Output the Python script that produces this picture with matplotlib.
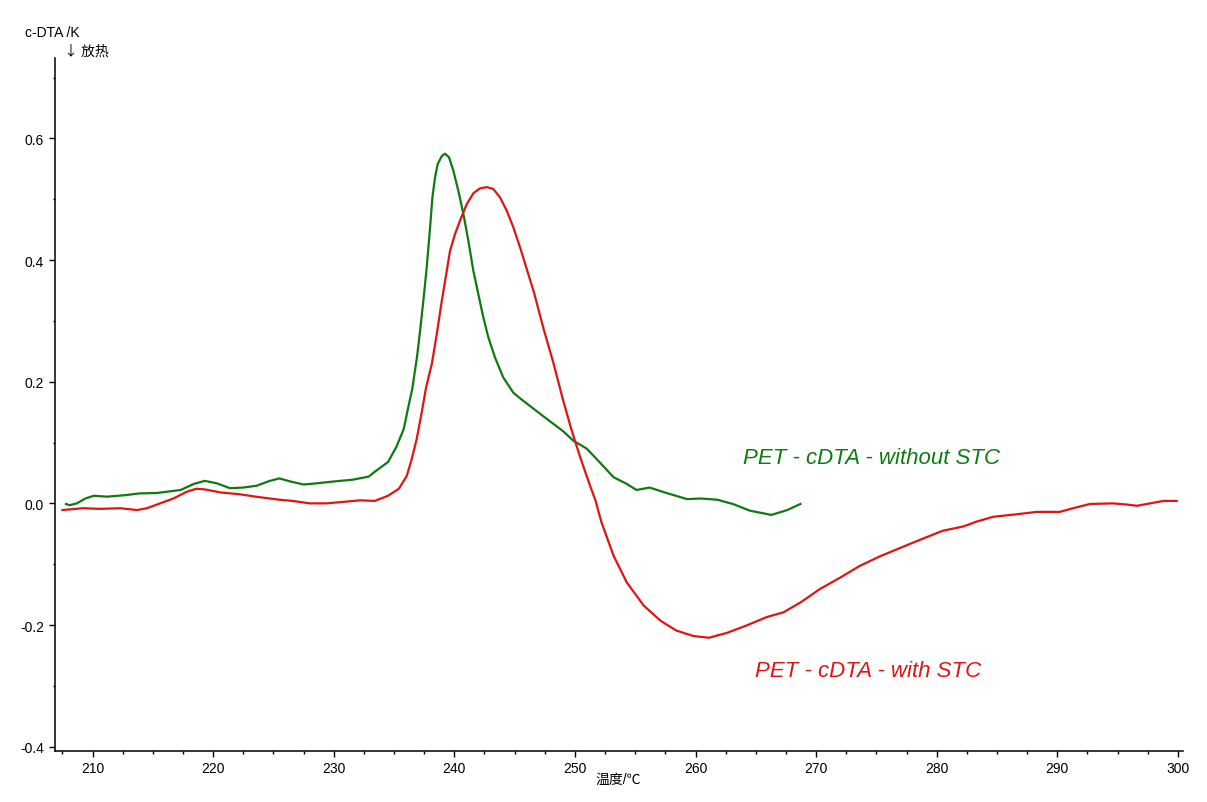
import matplotlib
matplotlib.use('Agg')
import matplotlib.pyplot as plt
from matplotlib.ticker import MultipleLocator, FormatStrFormatter

plt.rcParams['font.family'] = ['Liberation Sans', 'Noto Sans CJK SC', 'DejaVu Sans']
plt.rcParams['axes.unicode_minus'] = False

# c-DTA curve without STC (temperature in degC, signal in K)
temp_without = [207.8, 208.1, 208.7, 209.4, 210.1, 211.2, 212.8, 213.9, 215.3, 217.3,
                218.4, 219.3, 220.3, 221.4, 222.5, 223.6, 224.7, 225.5, 226.4, 227.5,
                228.6, 230.0, 231.6, 232.9, 233.4, 234.5, 235.2, 235.8, 236.2, 236.5,
                236.9, 237.16, 237.43, 237.71, 237.99, 238.18, 238.4, 238.62, 238.96, 239.23,
                239.56, 239.92, 240.33, 240.75, 241.16, 241.58, 241.99, 242.4, 242.82, 243.37,
                244.06, 244.89, 245.5, 246.28, 247.66, 249.0, 249.87, 250.98,
                252.08, 253.2, 254.3, 255.1, 256.2, 257.6, 259.3, 260.4, 261.8, 263.1,
                264.5, 266.3, 267.6, 268.7]
cdta_without = [-0.001, -0.003, 0.000, 0.008, 0.0125, 0.011, 0.0137, 0.0164, 0.017, 0.022,
                0.032, 0.037, 0.033, 0.025, 0.026, 0.029, 0.037, 0.041, 0.036, 0.031,
                0.033, 0.036, 0.039, 0.044, 0.052, 0.068, 0.093, 0.122, 0.160, 0.187,
                0.240, 0.284, 0.333, 0.388, 0.454, 0.503, 0.536, 0.558, 0.571, 0.575,
                0.569, 0.547, 0.514, 0.476, 0.432, 0.382, 0.344, 0.306, 0.273, 0.240,
                0.207, 0.182, 0.172, 0.160, 0.139, 0.119, 0.103, 0.090,
                0.067, 0.043, 0.032, 0.022, 0.026, 0.017, 0.007, 0.008, 0.006, -0.001,
                -0.012, -0.019, -0.011, -0.001]

# c-DTA curve with STC
temp_with = [207.5, 209.2, 210.6, 212.3, 213.7, 214.5, 215.6, 216.7, 217.8, 218.6,
             219.3, 220.6, 222.2, 223.9, 225.5, 226.6, 228.0, 229.4, 231.1, 232.2,
             233.4, 234.5, 235.4, 236.05, 236.47, 236.88, 237.3, 237.65, 238.13, 238.54,
             238.96, 239.37, 239.64, 240.06, 240.47, 241.03, 241.58, 242.13, 242.69, 243.23,
             243.79, 244.35, 244.89, 245.45, 246.6, 247.4, 248.2, 249.0, 249.7,
             250.4, 251.2, 251.7, 252.2, 253.2, 254.3, 255.7, 257.1, 258.4, 259.8,
             261.1, 262.6, 264.2, 265.9, 267.3, 268.7, 270.3, 272.0, 273.6, 275.3,
             277.0, 278.6, 280.5, 282.2, 283.3, 284.7, 286.6, 288.3, 290.2, 291.3,
             292.7, 294.6, 295.8, 296.6, 297.7, 298.8, 299.9]
cdta_with = [-0.011, -0.008, -0.009, -0.008, -0.011, -0.008, 0.000, 0.008, 0.019, 0.024,
             0.023, 0.018, 0.015, 0.010, 0.006, 0.004, 0.000, 0.000, 0.003, 0.005,
             0.004, 0.0125, 0.024, 0.045, 0.073, 0.106, 0.150, 0.190, 0.229, 0.278,
             0.333, 0.382, 0.415, 0.443, 0.465, 0.492, 0.510, 0.518, 0.520, 0.517,
             0.503, 0.481, 0.454, 0.421, 0.347, 0.287, 0.232, 0.171, 0.122,
             0.078, 0.032, 0.005, -0.031, -0.086, -0.130, -0.168, -0.193, -0.209, -0.218,
             -0.221, -0.213, -0.201, -0.187, -0.179, -0.163, -0.141, -0.122, -0.103, -0.087,
             -0.073, -0.060, -0.045, -0.038, -0.030, -0.022, -0.018, -0.014, -0.014, -0.008,
             -0.001, 0.000, -0.002, -0.004, 0.000, 0.004, 0.004]

green = '#0f7a0f'
red = '#e01414'

fig = plt.figure(figsize=(12.07, 8.03), dpi=100)
ax = fig.add_axes([0.0456, 0.0635, 0.9345, 0.863])

ax.plot(temp_without, cdta_without, color=green, lw=1.6)
ax.plot(temp_with, cdta_with, color=red, lw=1.6)

ax.set_xlim(206.89, 300.42)
ax.set_ylim(-0.4072, 0.7323)

ax.xaxis.set_major_locator(MultipleLocator(10))
ax.xaxis.set_minor_locator(MultipleLocator(2.5))
ax.yaxis.set_major_locator(MultipleLocator(0.2))
ax.yaxis.set_minor_locator(MultipleLocator(0.1))
ax.yaxis.set_major_formatter(FormatStrFormatter('%.1f'))

for side in ['top', 'right']:
    ax.spines[side].set_visible(False)
for side in ['left', 'bottom']:
    ax.spines[side].set_linewidth(1.1)

ax.tick_params(which='major', direction='out', length=4, width=1, labelsize=10, pad=3)
ax.tick_params(which='minor', direction='out', length=1.8, width=1)
ax.tick_params(axis='y', which='major', pad=4)

ax.text(263.94, 0.076, 'PET - cDTA - without STC', color=green, fontsize=16,
        style='italic', va='center', ha='left')
ax.text(264.93, -0.274, 'PET - cDTA - with STC', color=red, fontsize=16,
        style='italic', va='center', ha='left')

fig.text(25 / 1207, 1 - 33 / 803, 'c-DTA /K', fontsize=10, va='center', ha='left')
fig.text(64 / 1207, 1 - 52 / 803, '↓ 放热', fontsize=10, va='center', ha='left',
         family=['Noto Sans CJK SC', 'DejaVu Sans'])
fig.text(618 / 1207, 1 - 780 / 803, '温度/℃', fontsize=10, va='center', ha='center')

fig.savefig('out.png', dpi=100)
